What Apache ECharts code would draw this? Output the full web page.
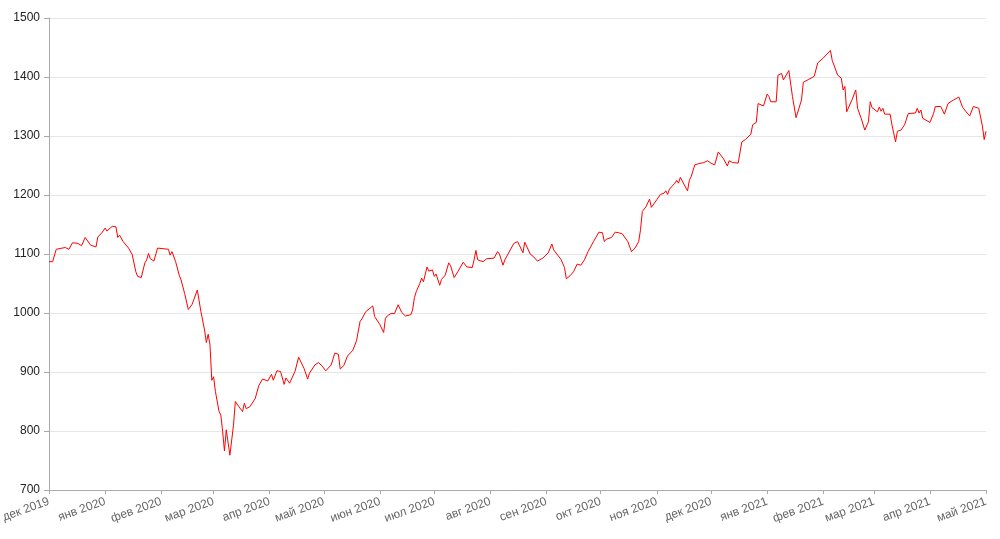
<!DOCTYPE html>
<html>
<head>
<meta charset="utf-8">
<script src="https://cdn.jsdelivr.net/npm/echarts@6/dist/echarts.min.js"></script>
<style>
html,body{margin:0;padding:0;background:#fff;}
#chart{width:1000px;height:539px;}
</style>
</head>
<body>
<div id="chart"></div>
<script>
const dates = [
'2019-12-01','2019-12-03','2019-12-05','2019-12-06','2019-12-10','2019-12-12','2019-12-14','2019-12-17','2019-12-19','2019-12-21',
'2019-12-24','2019-12-25','2019-12-27','2019-12-28','2019-12-30','2020-01-01','2020-01-02','2020-01-05','2020-01-07','2020-01-08',
'2020-01-09','2020-01-11','2020-01-14','2020-01-16','2020-01-18','2020-01-19','2020-01-21','2020-01-23','2020-01-24','2020-01-25',
'2020-01-26','2020-01-28','2020-01-30','2020-01-31','2020-02-05','2020-02-06','2020-02-07','2020-02-09','2020-02-11','2020-02-12',
'2020-02-13','2020-02-14','2020-02-16','2020-02-18','2020-02-19','2020-02-21','2020-02-22','2020-02-23','2020-02-25','2020-02-26',
'2020-02-27','2020-02-28','2020-02-29','2020-03-01','2020-03-02','2020-03-04','2020-03-05','2020-03-06','2020-03-07','2020-03-08',
'2020-03-10','2020-03-12','2020-03-13','2020-03-15','2020-03-17','2020-03-18','2020-03-19','2020-03-21','2020-03-24','2020-03-26',
'2020-03-27','2020-03-28','2020-03-31','2020-04-02','2020-04-03','2020-04-05','2020-04-07','2020-04-09','2020-04-10','2020-04-12',
'2020-04-15','2020-04-17','2020-04-20','2020-04-22','2020-04-23','2020-04-24','2020-04-26','2020-04-28','2020-04-30','2020-05-02',
'2020-05-05','2020-05-07','2020-05-09','2020-05-10','2020-05-12','2020-05-14','2020-05-15','2020-05-17','2020-05-19','2020-05-21',
'2020-05-22','2020-05-24','2020-05-28','2020-05-29','2020-06-01','2020-06-03','2020-06-04','2020-06-05','2020-06-07','2020-06-09',
'2020-06-11','2020-06-13','2020-06-15','2020-06-18','2020-06-19','2020-06-20','2020-06-21','2020-06-23','2020-06-24','2020-06-25',
'2020-06-27','2020-06-28','2020-06-30','2020-07-01','2020-07-02','2020-07-04','2020-07-05','2020-07-07','2020-07-09','2020-07-10',
'2020-07-11','2020-07-12','2020-07-14','2020-07-17','2020-07-19','2020-07-22','2020-07-23','2020-07-24','2020-07-25','2020-07-28',
'2020-07-30','2020-07-31','2020-08-03','2020-08-05','2020-08-06','2020-08-08','2020-08-09','2020-08-12','2020-08-14','2020-08-16',
'2020-08-17','2020-08-19','2020-08-20','2020-08-23','2020-08-25','2020-08-27','2020-08-28','2020-08-30','2020-09-02','2020-09-04',
'2020-09-05','2020-09-06','2020-09-09','2020-09-11','2020-09-12','2020-09-14','2020-09-16','2020-09-17','2020-09-18','2020-09-20',
'2020-09-22','2020-09-24','2020-09-27','2020-09-30','2020-10-02','2020-10-03','2020-10-04','2020-10-07','2020-10-09','2020-10-11',
'2020-10-13','2020-10-14','2020-10-16','2020-10-17','2020-10-18','2020-10-20','2020-10-22','2020-10-23','2020-10-24','2020-10-26',
'2020-10-28','2020-10-29','2020-10-30','2020-11-01','2020-11-03','2020-11-05','2020-11-06','2020-11-07','2020-11-08','2020-11-11',
'2020-11-12','2020-11-13','2020-11-14','2020-11-15','2020-11-18','2020-11-19','2020-11-20','2020-11-22','2020-11-24','2020-11-27',
'2020-11-29','2020-12-01','2020-12-03','2020-12-05','2020-12-08','2020-12-10','2020-12-11','2020-12-12','2020-12-13','2020-12-16',
'2020-12-18','2020-12-20','2020-12-23','2020-12-24','2020-12-25','2020-12-26','2020-12-27','2020-12-30','2020-12-31','2021-01-01',
'2021-01-02','2021-01-03','2021-01-06','2021-01-07','2021-01-09','2021-01-10','2021-01-13','2021-01-15','2021-01-17','2021-01-20',
'2021-01-21','2021-01-22','2021-01-24','2021-01-27','2021-01-29','2021-02-01','2021-02-05','2021-02-06','2021-02-07','2021-02-09',
'2021-02-11','2021-02-12','2021-02-13','2021-02-14','2021-02-17','2021-02-18','2021-02-19','2021-02-20','2021-02-22','2021-02-24',
'2021-02-26','2021-02-27','2021-02-28','2021-03-03','2021-03-04','2021-03-05','2021-03-06','2021-03-07','2021-03-10','2021-03-11',
'2021-03-13','2021-03-14','2021-03-16','2021-03-18','2021-03-19','2021-03-20','2021-03-24','2021-03-25','2021-03-26','2021-03-27',
'2021-03-28','2021-04-01','2021-04-03','2021-04-04','2021-04-07','2021-04-09','2021-04-11','2021-04-14','2021-04-17','2021-04-19',
'2021-04-21','2021-04-23','2021-04-25','2021-04-28','2021-04-30','2021-05-01','2021-05-02'
];
const values = [
1087,1087,1108,1107,1111,1108,1119,1118,1114,1128,
1115,1112,1112,1129,1135,1144,1139,1147,1146,1128,
1132,1121,1110,1099,1070,1062,1060,1085,1090,1101,
1092,1088,1110,1107,1108,1098,1104,1087,1064,1056,
1053,1033,1006,1014,1022,1039,1037,1002,971,950,
964,946,886,892,867,833,827,799,766,802,
759,810,850,841,833,847,838,841,855,877,
875,888,885,896,886,902,901,879,890,881,
901,925,906,888,898,899,912,916,910,902,
912,932,930,905,911,927,926,937,953,986,
990,1002,1012,994,980,967,991,995,999,999,
1014,1001,995,997,1005,1026,1036,1050,1059,1053,
1078,1071,1073,1062,1066,1047,1057,1064,1085,1080,
1077,1060,1070,1086,1078,1077,1090,1106,1090,1087,
1092,1095,1093,1104,1100,1081,1090,1107,1118,1121,
1115,1102,1120,1100,1095,1088,1085,1093,1102,1117,
1107,1104,1091,1077,1058,1063,1070,1068,1083,1081,
1090,1104,1121,1137,1136,1121,1125,1128,1137,1136,
1134,1135,1121,1119,1104,1110,1121,1141,1172,1180,
1193,1179,1181,1192,1201,1203,1207,1201,1210,1220,
1225,1220,1230,1230,1207,1225,1231,1251,1253,1255,
1258,1254,1251,1273,1261,1249,1258,1255,1255,1254,
1290,1294,1303,1319,1317,1323,1355,1351,1354,1371,
1367,1358,1358,1403,1406,1395,1411,1367,1331,1361,
1391,1389,1396,1401,1424,1432,1445,1428,1430,1403,
1398,1378,1384,1341,1362,1361,1378,1347,1330,1310,
1324,1358,1348,1341,1349,1342,1347,1337,1337,1319,
1290,1308,1310,1319,1317,1338,1339,1347,1339,1344,
1330,1323,1338,1350,1350,1337,1355,1361,1366,1349,
1341,1334,1350,1347,1317,1294,1308
];
const monthNames = ['янв','фев','мар','апр','май','июн','июл','авг','сен','окт','ноя','дек'];
const xMin = '2019-12-01';
const xMax = '2021-05-02';
const yMin = 700, yMax = 1500, yStep = 100;

const chart = echarts.init(document.getElementById('chart'), null, {renderer: 'canvas'});
const seriesData = dates.map((d, i) => [d, values[i]]);
chart.setOption({
  animation: false,
  backgroundColor: '#ffffff',
  textStyle: {fontFamily: '"Liberation Sans", Arial, Helvetica, sans-serif'},
  grid: {left: 49, right: 14, top: 18, bottom: 49, containLabel: false, outerBoundsMode: 'none'},
  xAxis: {
    type: 'time',
    min: xMin,
    max: xMax,
    splitNumber: 17,
    minInterval: 28 * 86400000,
    maxInterval: 31 * 86400000,
    axisLine: {show: true, lineStyle: {color: '#aaaaaa', width: 1}},
    axisTick: {show: true, length: 4, lineStyle: {color: '#aaaaaa'}},
    splitLine: {show: false},
    axisLabel: {
      rotate: 20,
      margin: 11,
      color: '#666666',
      fontSize: 12,
      hideOverlap: false,
      showMinLabel: true,
      showMaxLabel: true,
      formatter: function (val) {
        const d = new Date(val);
        return monthNames[d.getMonth()] + ' ' + d.getFullYear();
      }
    }
  },
  yAxis: {
    type: 'value',
    min: yMin,
    max: yMax,
    interval: yStep,
    axisLine: {show: true, lineStyle: {color: '#aaaaaa', width: 1}},
    axisTick: {show: true, length: 5, lineStyle: {color: '#aaaaaa'}},
    splitLine: {show: true, lineStyle: {color: '#e6e6e6', width: 1}},
    axisLabel: {color: '#222222', fontSize: 12, margin: 9, formatter: function (v) { return String(v); }}
  },
  series: [{
    type: 'line',
    data: seriesData,
    showSymbol: false,
    symbol: 'none',
    lineStyle: {color: '#ff0000', width: 1},
    itemStyle: {color: '#ff0000'}
  }]
});
</script>
</body>
</html>
